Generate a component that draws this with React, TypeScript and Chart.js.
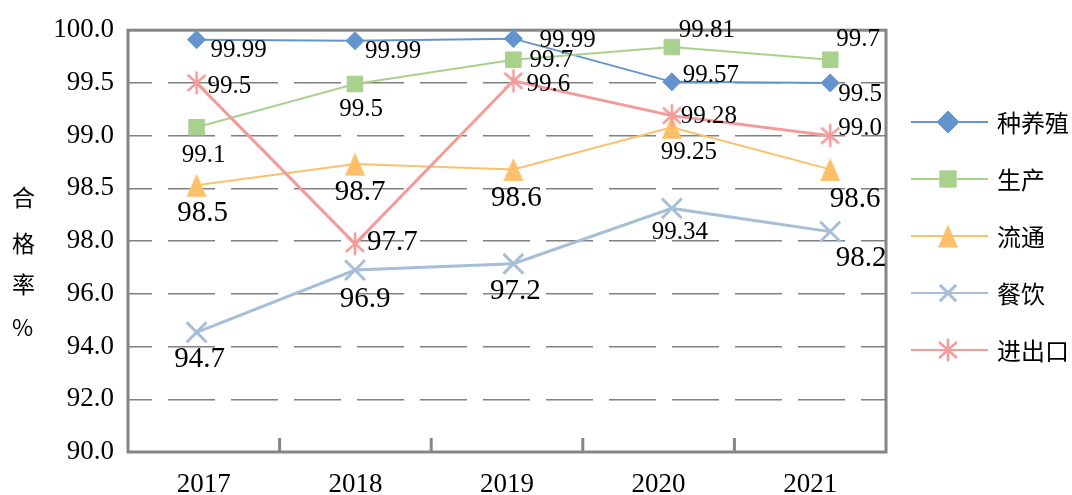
import React, { useEffect, useRef } from 'react';
import { Chart, registerables } from 'chart.js';
import { drawPoint } from 'chart.js/helpers';

Chart.register(...registerables);

// ---------- data ----------
const YEARS = ['2017', '2018', '2019', '2020', '2021'];
const YEAR_NUMS = [2017, 2018, 2019, 2020, 2021];
const Y_TICK_VALUES = [90, 92, 94, 96, 98, 98.5, 99, 99.5, 100];
const Y_TICK_LABELS = ['90.0', '92.0', '94.0', '96.0', '98.0', '98.5', '99.0', '99.5', '100.0'];
const SERIES_NAMES = ['种养殖', '生产', '流通', '餐饮', '进出口'];
const Y_TITLE = ['合', '格', '率', '%'];

// plotted values (as drawn in the picture)
const ZHONGYANGZHI = [99.91, 99.9, 99.92, 99.51, 99.5];
const SHENGCHAN = [99.08, 99.49, 99.72, 99.84, 99.72];
const LIUTONG = [98.53, 98.73, 98.68, 99.08, 98.68];
const CANYIN = [94.54, 96.9, 97.14, 98.31, 98.09];
const JINCHUKOU = [99.5, 97.9, 99.52, 99.19, 99.0];

// value labels as printed in the picture
const ZHONGYANGZHI_LABELS = ['99.99', '99.99', '99.99', '99.57', '99.5'];
const SHENGCHAN_LABELS = ['99.1', '99.5', '99.7', '99.81', '99.7'];
const LIUTONG_LABELS = ['98.5', '98.7', '98.6', '99.25', '98.6'];
const CANYIN_LABELS = ['94.7', '96.9', '97.2', '99.34', '98.2'];
const JINCHUKOU_LABELS = ['99.5', '97.7', '99.6', '99.28', '99.0'];

const SERIES_VALUES = [ZHONGYANGZHI, SHENGCHAN, LIUTONG, CANYIN, JINCHUKOU];
const SERIES_LABELS = [ZHONGYANGZHI_LABELS, SHENGCHAN_LABELS, LIUTONG_LABELS, CANYIN_LABELS, JINCHUKOU_LABELS];

// ---------- styles ----------
const COLORS = ['#6394CD', '#A8D18D', '#FCC06A', '#A6BED8', '#F39B99'];
const LINE_WIDTHS = [2, 2, 2, 3, 3];
const SERIF = '"Liberation Serif", "DejaVu Serif", serif';
const CJK = '"Noto Sans CJK SC", sans-serif';

// label placement per point: [anchor, dx, dy, big]
const PLACEMENT: [string, number, number, number][][] = [
  [['l', 14, 11, 0], ['l', 10, 11, 0], ['l', 26, 2, 0], ['l', 11, -6, 0], ['l', 8, 12, 0]],
  [['c', 7, 28, 0], ['c', 6, 25, 0], ['l', 16, 1, 0], ['l', 7, -17, 0], ['l', 6, -20, 0]],
  [['c', 6, 28, 1], ['c', 5, 28, 1], ['c', 3, 29, 1], ['c', 17, 25, 0], ['c', 25, 30, 1]],
  [['c', 3, 27, 1], ['c', 10, 29, 1], ['c', 2, 28, 1], ['c', 8, 24, 0], ['c', 31, 27, 1]],
  [['l', 11, 4, 0], ['l', 12, -1, 1], ['l', 13, 3.5, 0], ['l', 9, 1, 0], ['l', 8, -7, 0]],
];

// piecewise axis: each tick is one equal step
function valueToIdx(v: number): number {
  for (let k = 0; k < Y_TICK_VALUES.length - 1; k++) {
    const a = Y_TICK_VALUES[k];
    const b = Y_TICK_VALUES[k + 1];
    if (v <= b) return k + (v - a) / (b - a);
  }
  return Y_TICK_VALUES.length - 1;
}

function makeTriangle(color: string) {
  const c = document.createElement('canvas');
  c.width = 22;
  c.height = 25;
  const g = c.getContext('2d')!;
  g.fillStyle = color;
  g.beginPath();
  g.moveTo(11, 1);
  g.lineTo(21, 24);
  g.lineTo(1, 24);
  g.closePath();
  g.fill();
  return c;
}

function makeAsterisk(color: string, lw: number) {
  const c = document.createElement('canvas');
  c.width = 24;
  c.height = 26;
  const g = c.getContext('2d')!;
  g.strokeStyle = color;
  g.lineWidth = lw;
  g.beginPath();
  g.moveTo(12, 1.5);
  g.lineTo(12, 24.5);
  g.moveTo(3, 5);
  g.lineTo(21, 21);
  g.moveTo(21, 5);
  g.lineTo(3, 21);
  g.stroke();
  return c;
}

export default function App() {
  const ref = useRef<HTMLCanvasElement | null>(null);

  useEffect(() => {
    if (!ref.current) return;
    const tri = makeTriangle(COLORS[2]);
    const ast = makeAsterisk(COLORS[4], 2.5);
    const styles: any[] = ['rectRot', 'rect', tri, 'crossRot', ast];
    const radii = [9, 11, 11, 14, 11];
    const pbw = [1, 1, 0, 3, 0];
    const legendRadii = [11, 11.5, 11, 11.5, 11];

    const datasets = SERIES_NAMES.map((name, s) => ({
      label: name,
      data: SERIES_VALUES[s].map((v, i) => ({ x: YEAR_NUMS[i], y: valueToIdx(v) })),
      xAxisID: 'xp',
      yAxisID: 'y',
      borderColor: COLORS[s],
      backgroundColor: COLORS[s],
      borderWidth: LINE_WIDTHS[s],
      pointStyle: styles[s],
      pointRadius: radii[s],
      pointBorderWidth: pbw[s],
      pointBackgroundColor: COLORS[s],
      pointBorderColor: COLORS[s],
      fill: false,
      tension: 0,
      order: 4 - s,
    }));

    const decor = {
      id: 'decor',
      beforeDatasetsDraw(chart: any) {
        const { ctx, chartArea } = chart;
        const xs = chart.scales.x;
        ctx.save();
        ctx.strokeStyle = '#858585';
        ctx.lineWidth = 3;
        ctx.strokeRect(chartArea.left, chartArea.top, chartArea.right - chartArea.left, chartArea.bottom - chartArea.top);
        ctx.beginPath();
        for (let i = 0; i < YEARS.length - 1; i++) {
          const px = (xs.getPixelForTick(i) + xs.getPixelForTick(i + 1)) / 2;
          ctx.moveTo(px, chartArea.bottom);
          ctx.lineTo(px, chartArea.bottom - 14);
        }
        ctx.stroke();
        ctx.restore();
      },
      afterDatasetsDraw(chart: any) {
        const { ctx } = chart;
        ctx.save();
        ctx.fillStyle = '#000';
        ctx.textBaseline = 'middle';
        SERIES_LABELS.forEach((labels, s) => {
          const meta = chart.getDatasetMeta(s);
          labels.forEach((txt, i) => {
            const pt = meta.data[i];
            const [anchor, dx, dy, big] = PLACEMENT[s][i];
            ctx.font = `${big ? 29 : 25}px ${SERIF}`;
            ctx.textAlign = anchor === 'l' ? 'left' : 'center';
            ctx.fillText(txt, pt.x + dx, pt.y + dy);
          });
        });
        ctx.restore();
      },
      afterDraw(chart: any) {
        const { ctx } = chart;
        ctx.save();
        // y-axis title, stacked vertically
        ctx.fillStyle = '#000';
        ctx.font = `23px ${CJK}`;
        ctx.textAlign = 'left';
        ctx.textBaseline = 'middle';
        const ty = [197, 243, 284, 327];
        Y_TITLE.forEach((ch, i) => ctx.fillText(ch, 12, ty[i]));
        // legend
        SERIES_NAMES.forEach((name, s) => {
          const y = 122 + s * 57;
          ctx.strokeStyle = COLORS[s];
          ctx.lineWidth = 2;
          ctx.beginPath();
          ctx.moveTo(911, y);
          ctx.lineTo(988, y);
          ctx.stroke();
          ctx.fillStyle = COLORS[s];
          ctx.lineWidth = s === 3 ? 3 : 1;
          drawPoint(ctx, { pointStyle: styles[s], radius: legendRadii[s], rotation: 0, borderWidth: s === 3 ? 3 : (pbw[s] || 0) } as any, 948, y);
          ctx.fillStyle = '#000';
          ctx.font = `24px ${CJK}`;
          ctx.textAlign = 'left';
          ctx.textBaseline = 'middle';
          ctx.fillText(name, 997, y + 1);
        });
        ctx.restore();
      },
    };

    const chart = new Chart(ref.current, {
      type: 'line',
      data: { datasets: datasets as any },
      options: {
        responsive: false,
        animation: false,
        events: [],
        layout: { padding: { top: 29, right: 186, left: 0, bottom: 0 } },
        plugins: { legend: { display: false }, tooltip: { enabled: false } },
        scales: {
          xp: { type: 'linear', display: false, min: 2016.567, max: 2021.352 },
          x: {
            type: 'category',
            labels: YEARS,
            offset: true,
            position: 'bottom',
            grid: { display: false },
            border: { display: false },
            ticks: { color: '#000', font: { size: 27, family: SERIF }, padding: 9, maxRotation: 0, autoSkip: false },
            afterFit: (s: any) => { s.height = 43; },
          },
          y: {
            type: 'linear',
            min: 0,
            max: Y_TICK_VALUES.length - 1,
            grid: { color: '#808080', lineWidth: 1.5, drawTicks: false },
            border: { display: false, dash: [47, 16], dashOffset: 23 },
            ticks: {
              stepSize: 1,
              color: '#000',
              font: { size: 27, family: SERIF },
              padding: 14,
              callback: (v: any) => Y_TICK_LABELS[Math.round(Number(v))] ?? '',
            },
            afterFit: (s: any) => { s.width = 128; },
          },
        } as any,
      },
      plugins: [decor],
    });
    return () => chart.destroy();
  }, []);

  return (
    <div style={{ position: 'fixed', left: 0, top: 0, width: 1072, height: 495, background: '#fff' }}>
      <canvas ref={ref} width={1072} height={495} style={{ display: 'block' }} />
    </div>
  );
}
